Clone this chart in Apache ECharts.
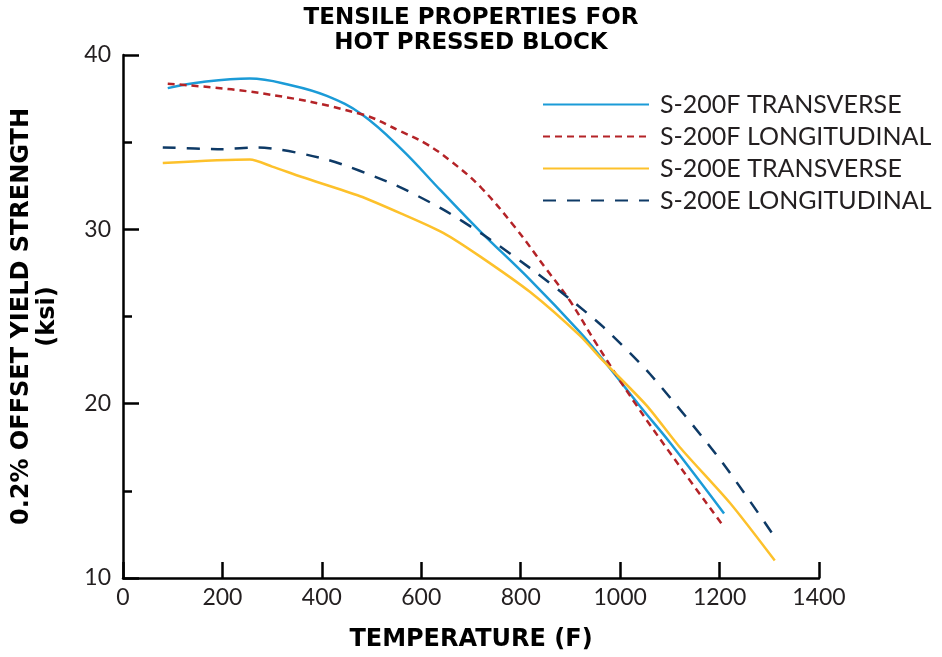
<!DOCTYPE html>
<html>
<head>
<meta charset="utf-8">
<script src="https://cdn.jsdelivr.net/npm/echarts@6/dist/echarts.min.js"></script>
<style>
  html, body { margin: 0; padding: 0; background: #fff; }
  #chart { width: 942px; height: 657px; }
</style>
</head>
<body>
<div id="chart"></div>
<script>
// temperature (F), yield strength (ksi)
var f_transverse = [[90,38.1],[160,38.45],[255,38.65],[340,38.25],[410,37.65],[480,36.6],[560,34.6],[640,32.2],[718,29.9],[819,27.1],[919,24.1],[966,22.5],[1040,19.85],[1102,17.7],[1209,13.7]];
var f_longitudinal = [[90,38.35],[280,37.8],[480,36.6],[560,35.6],[610,34.9],[660,33.9],[720,32.4],[789,30.1],[852,27.7],[899,25.9],[953,23.4],[1033,19.9],[1120,16.4],[1207,13.0]];
var e_transverse = [[80,33.8],[255,34.0],[300,33.6],[360,33.0],[477,31.9],[560,30.9],[644,29.8],[718,28.45],[819,26.4],[919,23.9],[966,22.45],[1053,19.9],[1120,17.5],[1221,14.3],[1311,11.0]];
var e_longitudinal = [[80,34.7],[200,34.6],[270,34.7],[410,34.0],[543,32.6],[640,31.2],[724,29.7],[832,27.5],[899,26.0],[966,24.4],[1060,21.7],[1201,16.8],[1305,12.6]];

var seriesNames = ['S-200F TRANSVERSE', 'S-200F LONGITUDINAL', 'S-200E TRANSVERSE', 'S-200E LONGITUDINAL'];

var boldFont = 'DejaVu Sans';
var textFont = 'Lato';
var ink = '#231f20';

var chart = echarts.init(document.getElementById('chart'));

function line(name, data, color, dash, smooth) {
    return {
        name: name,
        type: 'line',
        data: data,
        smooth: smooth,
        symbol: 'none',
        lineStyle: { color: color, width: 2.5, type: dash },
        itemStyle: { color: color }
    };
}

var option = {
    animation: false,
    backgroundColor: '#fff',
    title: {
        text: 'TENSILE PROPERTIES FOR\nHOT PRESSED BLOCK',
        left: 'center',
        top: 1,
        textStyle: { fontFamily: boldFont, fontWeight: 'bold', fontSize: 23, lineHeight: 25, color: '#000' }
    },
    legend: {
        orient: 'vertical',
        left: 537,
        top: 87,
        itemWidth: 106,
        itemHeight: 14,
        itemGap: 7,
        itemStyle: { opacity: 0 },
        data: seriesNames,
        textStyle: { fontFamily: textFont, fontSize: 25, color: ink, padding: [0, 0, 0, 6], lineHeight: 22 }
    },
    grid: { left: 123, right: 123, top: 55, bottom: 78 },
    xAxis: {
        type: 'value',
        min: 0,
        max: 1400,
        interval: 200,
        name: 'TEMPERATURE (F)',
        nameLocation: 'middle',
        nameGap: 50,
        nameTextStyle: { fontFamily: boldFont, fontWeight: 'bold', fontSize: 24, color: '#000' },
        axisLine: { lineStyle: { color: '#000', width: 2.5 } },
        axisTick: { inside: true, length: 16, lineStyle: { color: '#000', width: 2.5 } },
        axisLabel: { fontFamily: textFont, fontSize: 23, color: ink, margin: 8, formatter: function (v) { return String(v); } },
        splitLine: { show: false }
    },
    yAxis: {
        type: 'value',
        min: 10,
        max: 40,
        interval: 10,
        name: '0.2% OFFSET YIELD STRENGTH\n(ksi)',
        nameLocation: 'middle',
        nameGap: 62,
        nameRotate: 90,
        nameTextStyle: { fontFamily: boldFont, fontWeight: 'bold', fontSize: 24, lineHeight: 26, color: '#000' },
        axisLine: { show: true, lineStyle: { color: '#000', width: 2.5 } },
        axisTick: { show: true, inside: true, length: 16, lineStyle: { color: '#000', width: 2.5 } },
        minorTick: { show: true, splitNumber: 2, length: 9, lineStyle: { color: '#000', width: 2.5 } },
        axisLabel: { fontFamily: textFont, fontSize: 23, color: ink, margin: 12 },
        splitLine: { show: false }
    },
    series: [
        line(seriesNames[0], f_transverse, '#1b9bd7', 'solid', 0.4),
        line(seriesNames[1], f_longitudinal, '#b42327', [7, 5], 0.4),
        line(seriesNames[2], e_transverse, '#fdc12b', 'solid', 0.25),
        line(seriesNames[3], e_longitudinal, '#0e3a66', [13, 11], 0.25)
    ]
};
chart.setOption(option);
</script>
</body>
</html>
